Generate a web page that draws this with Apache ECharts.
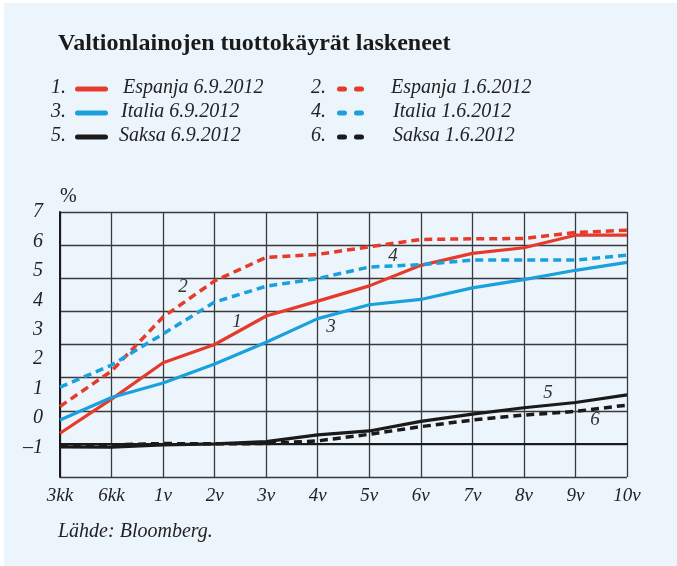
<!DOCTYPE html>
<html>
<head>
<meta charset="utf-8">
<script src="https://cdn.jsdelivr.net/npm/echarts@6/dist/echarts.min.js"></script>
<style>
html,body{margin:0;padding:0;background:#ffffff;width:677px;height:566px;overflow:hidden;}
#c{position:absolute;left:4px;top:3px;width:673px;height:563px;}
</style>
</head>
<body>
<div id="c"></div>
<script>
const categories = ['3kk','6kk','1v','2v','3v','4v','5v','6v','7v','8v','9v','10v'];
const espanja0609 = [0.32,1.35,2.45,3.00,3.86,4.31,4.77,5.39,5.75,5.92,6.30,6.30];
const espanja0106 = [1.13,2.20,3.83,4.92,5.63,5.72,5.95,6.17,6.19,6.20,6.38,6.45];
const italia0609  = [0.72,1.40,1.84,2.41,3.07,3.78,4.20,4.36,4.71,4.96,5.24,5.48];
const italia0106  = [1.71,2.38,3.32,4.28,4.76,4.99,5.34,5.41,5.55,5.55,5.55,5.70];
const saksa0609   = [-0.09,-0.10,-0.03,0.00,0.07,0.27,0.39,0.68,0.90,1.09,1.25,1.48];
const saksa0106   = [-0.04,-0.03,0.01,0.00,0.01,0.09,0.29,0.52,0.72,0.87,0.98,1.17];
const seriesNames = ['Espanja 6.9.2012','Espanja 1.6.2012','Italia 6.9.2012','Italia 1.6.2012','Saksa 6.9.2012','Saksa 1.6.2012'];
const seriesNumbers = ['1','2','3','4','5','6'];
const titleText = 'Valtionlainojen tuottokäyrät laskeneet';
const sourceText = 'Lähde: Bloomberg.';
const unitText = '%';

const RED = '#e63a2a', BLUE = '#1aa0dc', BLACK = '#1a1a1a';
const FONT = 'Liberation Serif';
const OX = 4, OY = 3; // container offset

const allData = [espanja0609, espanja0106, italia0609, italia0106, saksa0609, saksa0106];
const colors = [RED, RED, BLUE, BLUE, BLACK, BLACK];
const dashed = [false, true, false, true, false, true];

const series = allData.map((d, i) => ({
  name: seriesNames[i],
  type: 'line',
  data: d,
  symbol: 'none',
  yAxisIndex: 0,
  z: 5,
  lineStyle: {
    color: colors[i],
    width: dashed[i] ? 3.5 : 3.2,
    type: dashed[i] ? [8, 5] : 'solid',
    cap: 'butt',
    join: 'round'
  }
}));

const legendRows = [89, 113, 137];
const legendTextX = [[123, 391], [121, 393], [119, 393]];
const graphics = [];
for (let i = 0; i < 6; i++) {
  const row = Math.floor(i / 2), col = i % 2;
  const y = legendRows[row] - OY;
  const numX = (col === 0 ? 51 : 311) - OX;
  graphics.push({type: 'text', left: numX, top: y - 11, style: {text: seriesNumbers[i] + '.', font: 'italic 20px "' + FONT + '"', fill: '#222'}});
  if (!dashed[i]) {
    graphics.push({type: 'line', shape: {x1: 77.5 - OX, y1: y, x2: 105.5 - OX, y2: y}, style: {stroke: colors[i], lineWidth: 5, lineCap: 'round'}});
  } else {
    graphics.push({type: 'line', shape: {x1: 339.5 - OX, y1: y, x2: 361.5 - OX, y2: y}, style: {stroke: colors[i], lineWidth: 5, lineCap: 'round', lineDash: [5, 12]}});
  }
  graphics.push({type: 'text', left: legendTextX[row][col] - OX, top: y - 11, style: {text: seriesNames[i], font: 'italic 20px "' + FONT + '"', fill: '#222'}});
}
graphics.push({type: 'text', left: 58 - OX, top: 32 - OY, style: {text: titleText, font: 'bold 24px "' + FONT + '"', fill: '#1a1a1a'}});
graphics.push({type: 'text', left: 58 - OX, top: 522 - OY, style: {text: sourceText, font: 'italic 20px "' + FONT + '"', fill: '#222'}});
const numPos = [[237, 322], [183, 287], [331, 327], [393, 256], [548, 393], [595, 420]];
numPos.forEach((p, i) => {
  graphics.push({type: 'text', x: p[0] - OX, y: p[1] - OY, z: 10, style: {text: seriesNumbers[i], font: 'italic 19px "' + FONT + '"', fill: '#333', align: 'center', verticalAlign: 'middle'}});
});

const chart = echarts.init(document.getElementById('c'), null, {renderer: 'canvas'});
chart.setOption({
  backgroundColor: '#edf5fc',
  animation: false,
  grid: {left: 60 - OX, top: 212 - OY, right: 677 - 627, bottom: 566 - 477},
  xAxis: {
    type: 'category',
    data: categories,
    boundaryGap: false,
    axisLine: {show: true, lineStyle: {color: '#1a1a1a', width: 2}},
    axisTick: {show: false},
    axisLabel: {color: '#222', fontFamily: FONT, fontStyle: 'italic', fontSize: 19, margin: 9},
    splitLine: {show: true, lineStyle: {color: '#3a3a3a', width: 1.3}}
  },
  yAxis: [
    {
      type: 'value', min: -1, max: 7, interval: 1, position: 'left',
      name: unitText, nameLocation: 'end', nameGap: 5,
      nameTextStyle: {align: 'left', color: '#222', fontFamily: FONT, fontSize: 20},
      axisLine: {show: true, lineStyle: {color: '#1a1a1a', width: 2}},
      axisTick: {show: false},
      axisLabel: {show: false},
      splitLine: {show: true, lineStyle: {color: '#3a3a3a', width: 1.3}}
    },
    {
      type: 'value', min: -2, max: 7, interval: 1, position: 'left',
      axisLine: {show: false}, axisTick: {show: false}, splitLine: {show: false},
      axisLabel: {
        color: '#222', fontFamily: FONT, fontStyle: 'italic', fontSize: 20, margin: 17,
        formatter: v => v === -2 ? '' : (v < 0 ? '–' + Math.abs(v) : String(v))
      }
    }
  ],
  series: series,
  graphic: graphics
});
</script>
</body>
</html>
